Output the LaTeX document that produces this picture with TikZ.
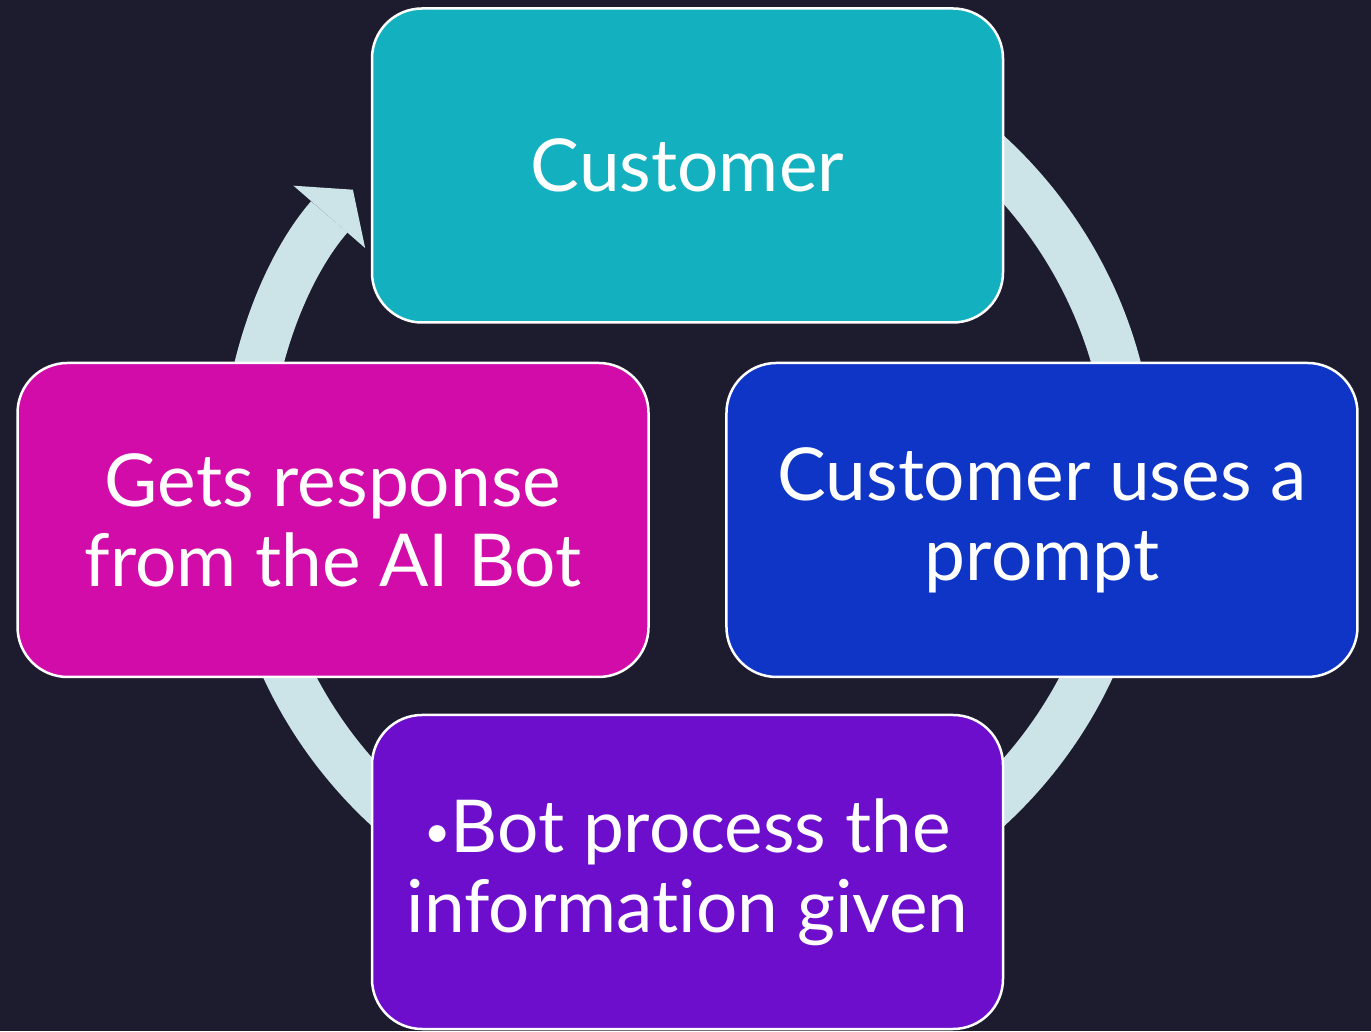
\documentclass[tikz,border=0pt]{standalone}
\usepackage{fontspec}
\setmainfont[Ligatures=NoCommon]{Lato}
\usepackage{graphicx}
\usepackage{tikz}
\usetikzlibrary{arrows.meta,positioning}
\definecolor{bgnavy}{HTML}{1D1B2E}
\definecolor{ringc}{HTML}{CCE3E7}
\definecolor{tealc}{HTML}{13B1BF}
\definecolor{bluec}{HTML}{0F35C6}
\definecolor{violetc}{HTML}{6D0ECC}
\definecolor{magentac}{HTML}{D10CA8}
\newcommand{\dotmark}{\raisebox{0.06em}{\scalebox{0.62}{•}}}

\begin{document}
\begin{tikzpicture}[x=1pt, y=1pt, >={Triangle[length=36pt, width=95pt, line width=0pt 0]}, node distance=501.3pt]
\tikzstyle{stage}=[draw=white, line width=2.5pt, rounded corners=50pt, minimum width=631pt, minimum height=314pt, align=center, text=white, font=\fontsize{73}{80}\selectfont]
\useasboundingbox (0,0) rectangle (1371,1031);
\fill[bgnavy] (0,0) rectangle (1371,1031);
\coordinate (HUB) at (688,550);
\draw[->, ringc, line width=48pt] ([shift={(90:444)}]HUB) arc[start angle=90, end angle=-221, radius=444];
\node[stage, fill=tealc]    (CUST)   at (687.5,865.5)       {Customer};
\node[stage, fill=bluec]    (PROMPT) [below right of=CUST]  {Customer uses a\\prompt};
\node[stage, fill=magentac] (RESP)   [below left of=CUST]   {Gets response\\from the AI Bot};
\node[stage, fill=violetc]  (PROC)   [below of=CUST, node distance=706.5pt] {\dotmark Bot process the\\information given};
\end{tikzpicture}
\end{document}
